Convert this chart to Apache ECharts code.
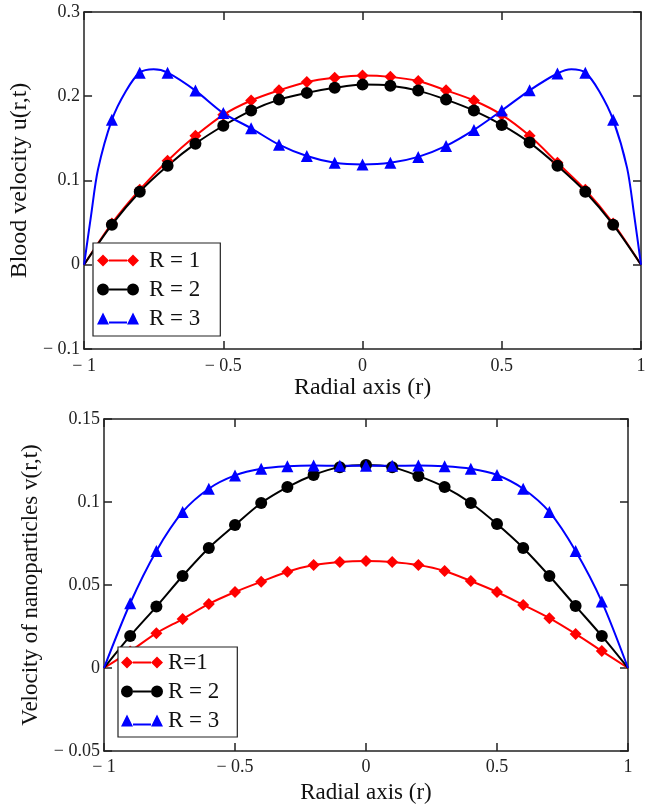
<!DOCTYPE html>
<html>
<head>
<meta charset="utf-8">
<script src="https://cdn.jsdelivr.net/npm/echarts@6/dist/echarts.min.js"></script>
<style>
html,body{margin:0;padding:0;background:#fff;}
#chart{width:656px;height:807px;}
</style>
</head>
<body>
<div id="chart"></div>
<script>
// ---- data ----
const rGrid = [-1,-0.9,-0.8,-0.7,-0.6,-0.5,-0.4,-0.3,-0.2,-0.1,0,0.1,0.2,0.3,0.4,0.5,0.6,0.7,0.8,0.9,1];

// Top panel: blood velocity u(r,t)
const uR1 = [0,0.049,0.089,0.1235,0.153,0.178,0.195,0.207,0.217,0.222,0.2245,0.223,0.218,0.207,0.195,0.178,0.153,0.121,0.089,0.049,0];
const uR2 = [0,0.0475,0.0867,0.1176,0.1437,0.165,0.183,0.196,0.204,0.210,0.2138,0.2126,0.2067,0.196,0.183,0.166,0.145,0.1176,0.0867,0.0475,0];
const rR3Top = [-1,-0.975,-0.95,-0.9,-0.85,-0.8,-0.75,-0.7,-0.6,-0.5,-0.4,-0.3,-0.2,-0.1,0,0.1,0.2,0.3,0.4,0.5,0.6,0.7,0.75,0.8,0.85,0.9,0.95,0.975,1];
const uR3 = [0,0.058,0.113,0.172,0.206,0.228,0.232,0.228,0.2067,0.180,0.162,0.1425,0.129,0.121,0.119,0.121,0.128,0.141,0.160,0.183,0.207,0.227,0.232,0.228,0.206,0.172,0.115,0.06,0];

// Bottom panel: velocity of nanoparticles v(r,t)
const vR1 = [0,0.010,0.021,0.0295,0.0386,0.0458,0.052,0.058,0.062,0.0639,0.0645,0.0639,0.062,0.0584,0.0524,0.0458,0.038,0.030,0.0205,0.0102,0];
const vR2 = [0,0.0193,0.037,0.0554,0.0723,0.0861,0.0994,0.109,0.1163,0.121,0.1223,0.121,0.1157,0.109,0.0994,0.0867,0.0723,0.0554,0.0373,0.0193,0];
const vR3 = [0,0.039,0.0705,0.094,0.108,0.116,0.120,0.1215,0.122,0.1218,0.1218,0.1218,0.122,0.1215,0.120,0.1163,0.108,0.094,0.0705,0.040,0];

const xTicks = [-1,-0.5,0,0.5,1];
const topYTicks = [-0.1,0,0.1,0.2,0.3];
const botYTicks = [-0.05,0,0.05,0.1,0.15];

const topNames = ['R = 1','R = 2','R = 3'];
const botNames = ['R=1','R = 2','R = 3'];

// ---- styling ----
const SERIF = 'Liberation Serif';
const AX = '#222';
const colors = ['#ff0000','#000000','#0000ff'];
const symbols = ['diamond','circle','triangle'];
const symSizes = [12,12,12];

function fmt(v, d){
  const n = Math.round(v*Math.pow(10,d))/Math.pow(10,d);
  if (Math.abs(n) < 1e-9) return '0';
  return n < 0 ? '\u2212 ' + String(Math.abs(n)) : String(n);
}
function pairs(xs, ys){ return xs.map((x,i)=>[x, ys[i]]); }
function isMark(r){ return Math.abs(r) < 0.999 && Math.abs(r*10 - Math.round(r*10)) < 1e-6; }

function xAxes(gi, margin){
  const base = {
    type:'value', gridIndex:gi, min:-1, max:1, interval:0.5,
    splitLine:{show:false},
    axisLine:{onZero:false, lineStyle:{color:AX, width:1.5}},
    axisTick:{inside:true, length:8, lineStyle:{color:AX, width:1.5}}
  };
  return [
    Object.assign({}, base, {position:'bottom',
      name:'Radial axis (r)', nameLocation:'middle', nameGap: gi===0?27:30,
      nameTextStyle:{fontFamily:SERIF, fontSize: gi===0?24:23, color:'#111'},
      axisLabel:{fontFamily:SERIF, fontSize:18, color:'#222', margin:margin, formatter:v=>fmt(v,1)}}),
    Object.assign({}, base, {position:'top', axisLabel:{show:false}})
  ];
}
function yAxes(gi, min, max, interval, dec, name, gap, fs){
  const base = {
    type:'value', gridIndex:gi, min:min, max:max, interval:interval,
    splitLine:{show:false},
    axisLine:{onZero:false, lineStyle:{color:AX, width:1.5}},
    axisTick:{inside:true, length:8, lineStyle:{color:AX, width:1.5}}
  };
  return [
    Object.assign({}, base, {position:'left',
      name:name, nameLocation:'middle', nameGap:gap,
      nameTextStyle:{fontFamily:SERIF, fontSize:fs, color:'#111'},
      axisLabel:{fontFamily:SERIF, fontSize:18, color:'#222', margin:4, formatter:v=>fmt(v,dec)}}),
    Object.assign({}, base, {position:'right', axisLabel:{show:false}})
  ];
}

function mkSeries(name, xs, ys, k, xi, yi){
  return {
    type:'line', name:name, xAxisIndex:xi, yAxisIndex:yi,
    data:pairs(xs, ys), smooth:0.3,
    symbol:symbols[k], showAllSymbol:true,
    symbolSize:(v)=> isMark(v[0]) ? symSizes[k] : 0,
    lineStyle:{color:colors[k], width:2},
    itemStyle:{color:colors[k]},
    emphasis:{disabled:true}, animation:false
  };
}

const icons = [
  'path://M0,6L6,0L12,6L6,12Z M12,5L30,5L30,7L12,7Z M30,6L36,0L42,6L36,12Z',
  'path://M0,6A6,6,0,1,1,12,6A6,6,0,1,1,0,6Z M12,5L30,5L30,7L12,7Z M30,6A6,6,0,1,1,42,6A6,6,0,1,1,30,6Z',
  'path://M0,12L6,0L12,12Z M12,9L30,9L30,11L12,11Z M30,12L36,0L42,12Z'
];

const option = {
  backgroundColor:'#fff',
  animation:false,
  grid:[
    {left:78, top:12, width:563, height:337},
    {left:104, top:419, width:524, height:332}
  ],
  xAxis:[].concat(xAxes(0,8), xAxes(1,7)),
  yAxis:[].concat(
    yAxes(0,-0.1,0.3,0.1,1,'Blood velocity u(r,t)',41,24),
    yAxes(1,-0.05,0.15,0.05,2,'Velocity of nanoparticles v(r,t)',47,23)
  ),
  legend:[
    {
      orient:'vertical', left:93, top:243, itemWidth:42, itemHeight:12, itemGap:6,
      padding:[6,20,6,4], borderColor:'#222', borderWidth:1.2, backgroundColor:'#fff', borderRadius:0,
      selectedMode:false,
      textStyle:{fontFamily:SERIF, fontSize:23, color:'#111', padding:[0,0,0,5]},
      data: topNames.map((n,k)=>({name:n, icon:icons[k]}))
    },
    {
      orient:'vertical', left:118, top:647, itemWidth:42, itemHeight:12, itemGap:6,
      padding:[4,18,5,3], borderColor:'#222', borderWidth:1.2, backgroundColor:'#fff', borderRadius:0,
      selectedMode:false,
      textStyle:{fontFamily:SERIF, fontSize:23, color:'#111'},
      data: botNames.map((n,k)=>({name:n, icon:icons[k]}))
    }
  ],
  series:[
    mkSeries(topNames[0], rGrid, uR1, 0, 0, 0),
    mkSeries(topNames[1], rGrid, uR2, 1, 0, 0),
    mkSeries(topNames[2], rR3Top, uR3, 2, 0, 0),
    mkSeries(botNames[0], rGrid, vR1, 0, 2, 2),
    mkSeries(botNames[1], rGrid, vR2, 1, 2, 2),
    mkSeries(botNames[2], rGrid, vR3, 2, 2, 2)
  ]
};

const chart = echarts.init(document.getElementById('chart'), null, {renderer:'canvas'});
chart.setOption(option);
</script>
</body>
</html>
